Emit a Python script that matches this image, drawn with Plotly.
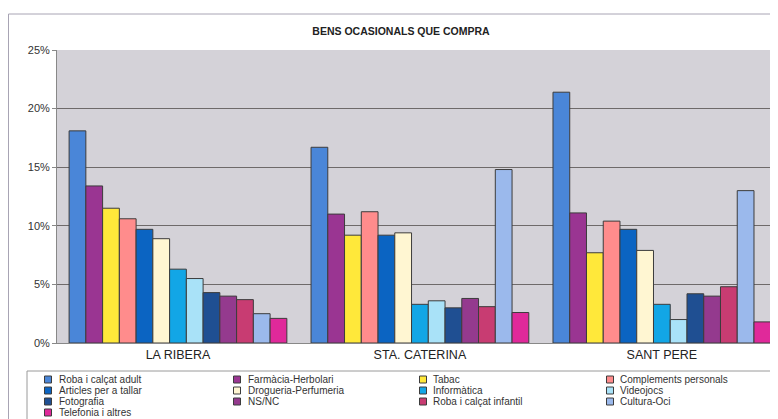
import plotly.graph_objects as go

categories = ["LA RIBERA", "STA. CATERINA", "SANT PERE"]

series_names = [
    "Roba i calçat adult", "Farmàcia-Herbolari", "Tabac", "Complements personals",
    "Articles per a tallar", "Drogueria-Perfumeria", "Informàtica", "Videojocs",
    "Fotografia", "NS/NC", "Roba i calçat infantil", "Cultura-Oci",
    "Telefonia i altres",
]

roba_adult = [18.1, 16.7, 21.4]
farmacia = [13.4, 11.0, 11.1]
tabac = [11.5, 9.2, 7.7]
complements = [10.6, 11.2, 10.4]
articles_tallar = [9.7, 9.2, 9.7]
drogueria = [8.9, 9.4, 7.9]
informatica = [6.3, 3.3, 3.3]
videojocs = [5.5, 3.6, 2.0]
fotografia = [4.3, 3.0, 4.2]
nsnc = [4.0, 3.8, 4.0]
roba_infantil = [3.7, 3.1, 4.8]
cultura_oci = [2.5, 14.8, 13.0]
telefonia = [2.1, 2.6, 1.8]

series_values = [roba_adult, farmacia, tabac, complements, articles_tallar, drogueria,
                 informatica, videojocs, fotografia, nsnc, roba_infantil, cultura_oci,
                 telefonia]

colors = ["#4a86d8", "#9a3592", "#ffe83a", "#ff8c8c", "#0b64c2", "#fff6d2",
          "#12a6e6", "#a9e2f8", "#1f4f92", "#943a8e", "#c83c72", "#9bb9ec",
          "#e0299a"]

y_tick_vals = [0, 5, 10, 15, 20, 25]
y_tick_text = ["0%", "5%", "10%", "15%", "20%", "25%"]

# page body has an 8px margin: figure coords = screen coords - 8
OFF = 8
W, H = 778 - OFF, 419 - OFF
L, T, R, B = 57 - OFF, 50 - OFF, 778 - OFF, 343 - OFF
pw, ph = R - L, B - T

fig = go.Figure()
for name, vals, col in zip(series_names, series_values, colors):
    fig.add_trace(go.Bar(
        name=name, x=categories, y=vals,
        marker=dict(color=col, line=dict(color="#3c3c3c", width=1)),
        showlegend=False,
    ))


def px_x(p):
    return (p - OFF - L) / pw


def px_y(p):
    return (B - (p - OFF)) / ph


shapes = []
annotations = []

# outer chart-area border
shapes.append(dict(type="rect", xref="paper", yref="paper",
                   x0=px_x(8.5), x1=px_x(800), y0=px_y(14), y1=px_y(440),
                   line=dict(color="#a8a4b4", width=1), fillcolor="rgba(0,0,0,0)",
                   layer="below"))
# legend box
shapes.append(dict(type="rect", xref="paper", yref="paper",
                   x0=px_x(27), x1=px_x(775), y0=px_y(371), y1=px_y(440),
                   line=dict(color="#9a9a9a", width=1), fillcolor="white"))

col_marker = [48, 237, 423, 610]
col_text = [57, 246, 431, 618]
row_y = [379.5, 390.5, 401.5, 412.5]
for i, (name, col) in enumerate(zip(series_names, colors)):
    r, c = divmod(i, 4)
    mx, my = col_marker[c], row_y[r]
    shapes.append(dict(type="rect", xref="paper", yref="paper",
                       x0=px_x(mx - 3.5), x1=px_x(mx + 3.5),
                       y0=px_y(my + 3.5), y1=px_y(my - 3.5),
                       line=dict(color="#3c3c3c", width=1), fillcolor=col))
    annotations.append(dict(xref="paper", yref="paper", x=px_x(col_text[c]), y=px_y(my),
                            xanchor="left", yanchor="middle", showarrow=False,
                            text=name, font=dict(family="Arial", size=10, color="#333333")))

fig.update_layout(
    width=W, height=H,
    margin=dict(l=L, r=W - R, t=T, b=H - B, pad=0),
    paper_bgcolor="white",
    plot_bgcolor="#d4d2d8",
    barmode="group",
    bargap=0.1,
    bargroupgap=0,
    showlegend=False,
    title=dict(text="<b>BENS OCASIONALS QUE COMPRA</b>", x=(401 - OFF) / W,
               xanchor="center", y=1 - (31 - OFF) / H, yanchor="middle",
               font=dict(family="Arial", size=10.5, color="#222222")),
    font=dict(family="Arial", color="#222222"),
    xaxis=dict(range=[-0.5, 2.48], showgrid=False, showline=True, linecolor="#888888",
               ticks="", tickfont=dict(size=12.5, color="#222222")),
    yaxis=dict(range=[0, 25], tickmode="array", tickvals=y_tick_vals,
               ticktext=y_tick_text, showgrid=True,
               gridcolor="#6e6a6a", gridwidth=1, showline=True, linecolor="#888888",
               ticks="outside", ticklen=4, tickcolor="#888888",
               tickfont=dict(size=11, color="#333333"), zeroline=False),
    shapes=shapes,
    annotations=annotations,
)

fig.write_html("out.html")
